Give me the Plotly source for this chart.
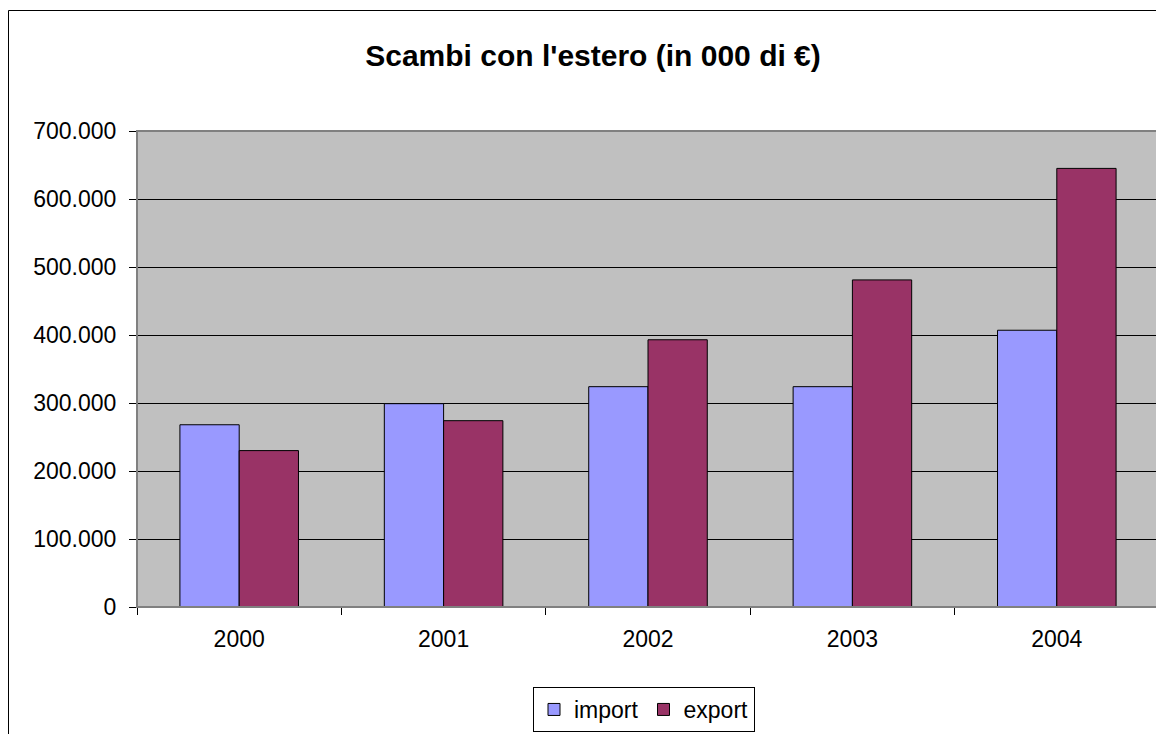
import plotly.graph_objects as go

years = ["2000", "2001", "2002", "2003", "2004"]
import_vals = [268000, 299000, 324000, 324000, 407000]
export_vals = [230000, 274000, 393000, 481000, 645000]
series_names = ["import", "export"]
series_colors = ["#9999FF", "#993366"]
y_ticks = [0, 100000, 200000, 300000, 400000, 500000, 600000, 700000]

# page has an 8px body margin; work in figure coordinates = page - 8
OFF = 8
W, H = 1164 - OFF, 734 - OFF
L, R, T, B = 137 - OFF, 1159 - OFF, 131 - OFF, 607 - OFF

fig = go.Figure()
for name, vals, col in zip(series_names, [import_vals, export_vals], series_colors):
    fig.add_trace(go.Bar(
        x=years, y=vals, name=name,
        marker=dict(color=col, line=dict(color="black", width=1)),
    ))

pw, ph = R - L, B - T
def px2x(px):
    return (px - OFF - L) / pw
def py2y(py):
    return (B - (py - OFF)) / ph

FONT = "Liberation Sans, Arial, sans-serif"

fig.update_layout(
    width=W, height=H,
    margin=dict(l=L, r=W - R, t=T, b=H - B, pad=0, autoexpand=False),
    paper_bgcolor="white",
    plot_bgcolor="#C0C0C0",
    separators=",.",
    barmode="group",
    bargap=0.42,
    bargroupgap=0,
    font=dict(family=FONT, size=23, color="black"),
    title=dict(
        text="<b>Scambi con l'estero (in 000 di €)</b>",
        font=dict(size=30, family=FONT, color="black"),
        x=(593 - OFF) / W, xref="container", xanchor="center",
        y=1 - (55 - OFF) / H, yref="container", yanchor="middle",
    ),
    xaxis=dict(
        type="category",
        tickson="boundaries",
        ticks="outside", ticklen=7, tickcolor="black", tickwidth=1,
        showline=True, linecolor="black", linewidth=1,
        showgrid=False,
        ticklabelstandoff=11,
        tickfont=dict(size=23),
    ),
    yaxis=dict(
        range=[0, 700000],
        tickvals=y_ticks,
        tickformat=",d",
        ticks="outside", ticklen=7, tickcolor="black", tickwidth=1,
        showline=True, linecolor="black", linewidth=1,
        showgrid=True, gridcolor="black", gridwidth=1,
        zeroline=False,
        ticklabelstandoff=8,
        tickfont=dict(size=23),
    ),
    legend=dict(
        orientation="h",
        x=px2x(644), xanchor="center",
        y=py2y(687), yanchor="top",
        bordercolor="black", borderwidth=1,
        bgcolor="white",
        font=dict(size=23),
        itemwidth=30,
        tracegroupgap=0,
    ),
    showlegend=True,
    shapes=[
        dict(type="rect", xref="paper", yref="paper", x0=0, x1=1, y0=0, y1=1,
             line=dict(color="#808080", width=2), layer="above"),
        dict(type="rect", xref="paper", yref="paper",
             x0=px2x(8.5), x1=px2x(1200), y0=py2y(10.5), y1=py2y(760),
             line=dict(color="black", width=1), layer="above"),
    ],
)

fig.write_html("out.html")
